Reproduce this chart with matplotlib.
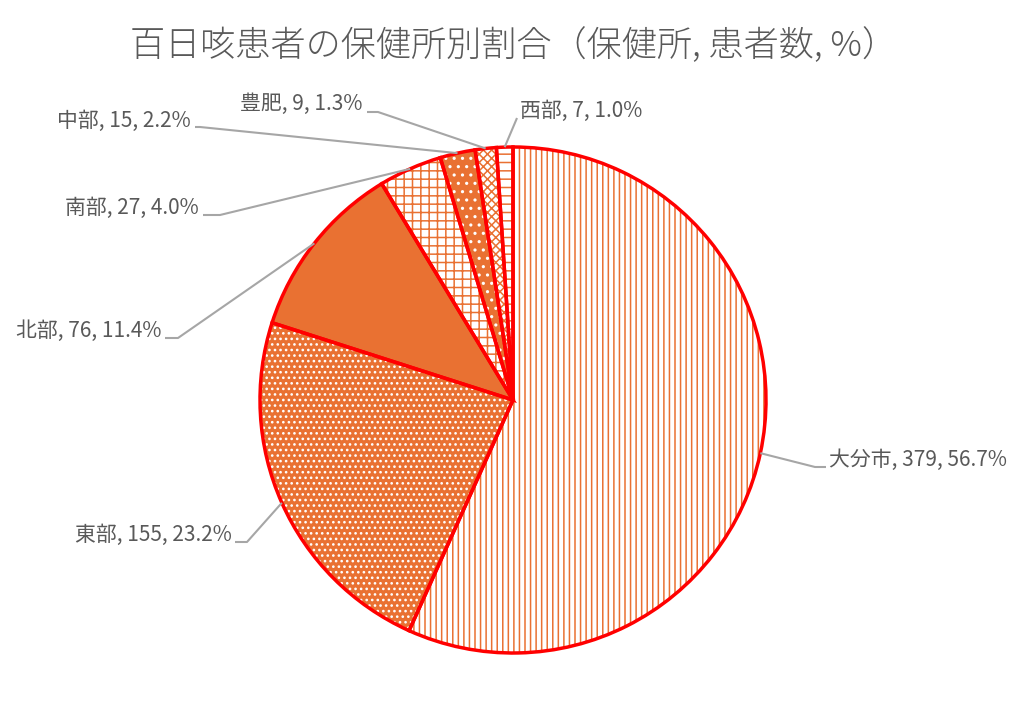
import matplotlib
matplotlib.use("Agg")
import matplotlib.pyplot as plt
from matplotlib.patches import Wedge
import numpy as np

plt.rcParams['font.family'] = ['Noto Sans CJK JP', 'DejaVu Sans']
plt.rcParams['hatch.linewidth'] = 1.1

# ---- data ----
title = "百日咳患者の保健所別割合（保健所, 患者数, %）"
categories = ["大分市", "東部", "北部", "南部", "中部", "豊肥", "西部"]
counts = [379, 155, 76, 27, 15, 9, 7]
percents = [56.7, 23.2, 11.4, 4.0, 2.2, 1.3, 1.0]

# ---- styles ----
ORANGE = "#E97132"
WHITE = "#FFFFFF"
RED = "#FF0000"
TEXT = "#595959"
LEADER = "#A6A6A6"
# (background, hatch colour, hatch pattern)
styles = [
    (WHITE, ORANGE, "|||"),
    (ORANGE, WHITE, "..."),
    (ORANGE, ORANGE, None),
    (WHITE, ORANGE, "++"),
    (ORANGE, WHITE, ".."),
    (WHITE, ORANGE, "xxxx"),
    (WHITE, ORANGE, "--"),
]

# label layout in pixels: (elbow, line end, text pos, ha)
CX, CY, R = 513.0, 400.0, 253.0
layout = [
    ((815, 467), (826, 467), (829, 460), "left"),
    ((247, 542), (235, 542), (232, 535), "right"),
    ((178, 338), (165, 338), (161, 331), "right"),
    ((220, 215), (203, 215), (199, 208), "right"),
    ((200, 127), (195, 127), (191, 121), "right"),
    ((378, 112), (367, 112), (363, 104), "right"),
    ((517, 118), (517, 118), (520, 111), "left"),
]


def px2d(p):
    return ((p[0] - CX) / R, (CY - p[1]) / R)


fig = plt.figure(figsize=(10.26, 7.2), dpi=100)
ax = fig.add_axes([(CX - R) / 1026, (720 - (CY + R)) / 720, 2 * R / 1026, 2 * R / 720])

wedges, _ = ax.pie(counts, startangle=90, counterclock=False, radius=1,
                   wedgeprops=dict(linewidth=0))
ax.set_xlim(-1, 1)
ax.set_ylim(-1, 1)
ax.axis("off")

for i, w in enumerate(wedges):
    bg, hc, hp = styles[i]
    w.set_facecolor(bg)
    w.set_clip_on(False)
    if hp:
        hw = Wedge((0, 0), 1, w.theta1, w.theta2, facecolor="none", edgecolor=hc,
                   linewidth=0, hatch=hp, clip_on=False)
        ax.add_patch(hw)
for w in wedges:
    ow = Wedge((0, 0), 1, w.theta1, w.theta2, facecolor="none", edgecolor=RED,
               linewidth=2.5, clip_on=False, joinstyle="miter")
    ax.add_patch(ow)

# labels with leader lines
for i, w in enumerate(wedges):
    mid = np.deg2rad((w.theta1 + w.theta2) / 2)
    ax0, ay0 = np.cos(mid), np.sin(mid)
    elbow, end, tpos, ha = layout[i]
    ex, ey = px2d(elbow)
    nx, ny = px2d(end)
    ax.plot([ax0, ex, nx], [ay0, ey, ny], color=LEADER, lw=1.5, clip_on=False,
            solid_capstyle="butt")
    tx, ty = px2d(tpos)
    ax.text(tx, ty, f"{categories[i]}, {counts[i]}, {percents[i]:.1f}%",
            ha=ha, va="center", fontsize=15, color=TEXT, clip_on=False)

fig.text(513 / 1026, 1 - 46 / 720, title, ha="center", va="center",
         fontsize=25.3, color=TEXT, fontweight="light")

fig.savefig("out.png", dpi=100, facecolor="white")
